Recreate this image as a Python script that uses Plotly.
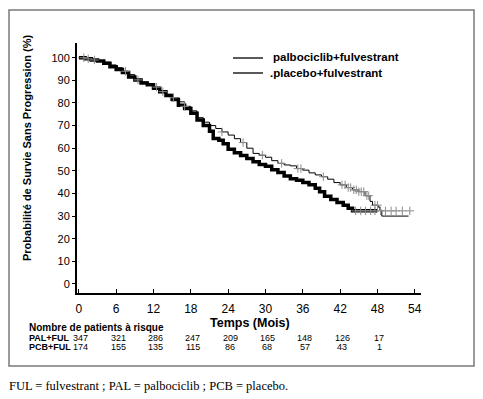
import numpy as np
import plotly.graph_objects as go

# ---------------- data ----------------
pal_t = [0, 1, 2, 3, 4, 5, 6, 7, 8, 9, 10, 11, 12, 13, 14, 15, 16, 17, 18, 19, 20,
         21, 22, 23, 24, 25, 26, 27, 28, 29, 30, 31, 32, 33, 34, 35, 36, 37, 38, 39,
         40, 41, 42, 43, 44, 45, 46, 46.8, 47.2, 48.1, 48.4, 48.7, 53]
pal_s = [100, 99.5, 99, 98.5, 98, 96.8, 95.6, 94, 92.5, 90.5, 89.3, 88.4, 87, 85.5,
         83.8, 82.3, 80.5, 78.5, 76.5, 73.5, 71.5, 70, 68.7, 67.2, 65.8, 64.2, 62.5,
         60, 57.7, 56.9, 56, 54.5, 53.3, 52.6, 52.2, 51, 50.3, 49.1, 48.2, 47.4, 46.3,
         44.8, 43.8, 42.6, 41.6, 40.8, 39, 36.5, 34.8, 34, 32.6, 30, 30]

pcb_t = [0, 1, 2, 3, 4, 5, 6, 7, 8, 9, 10, 11, 12, 13, 14, 15, 16, 17, 18, 19, 20,
         21, 21.6, 22.5, 23.2, 24, 25, 26, 27, 28, 29, 30, 31, 32, 33, 34, 35, 36, 37,
         38, 38.7, 39.5, 40.5, 41.5, 42.5, 43.3, 44, 48]
pcb_s = [100, 99.5, 99, 98.5, 97.5, 96, 94.8, 93.5, 91.5, 90.2, 88.8, 88, 86.5, 85,
         83.3, 81.5, 79, 77.5, 75.5, 72.5, 70, 67.5, 64.3, 63.5, 62, 59.5, 58, 56.8,
         55.5, 54, 52.8, 52, 50.5, 49.3, 47.7, 46.5, 45.8, 44.8, 43.8, 42.3, 40.8,
         38.8, 37.3, 36, 34.8, 33.5, 32.3, 32.3]

pal_censor = [0.8, 2.5, 7.5, 12.5, 15.2, 17, 23, 26.4, 29.5, 32.6, 35.2, 35.7, 39.3,
              42.3, 42.8, 43.3, 43.7, 44.2, 44.6, 45.0, 45.4, 45.8, 46.3, 46.6,
              47.6, 48.0]
pcb_censor = [1.5, 9.5, 13.5, 44.5, 45.3, 46.1, 46.9, 47.6, 48.5, 49.3, 50.2,
              51.0, 52.0, 53.2]

x_ticks = [0, 6, 12, 18, 24, 30, 36, 42, 48, 54]
y_ticks = [0, 10, 20, 30, 40, 50, 60, 70, 80, 90, 100]

risk_times = [0, 6, 12, 18, 24, 30, 36, 42, 48]
risk_pal = [347, 321, 286, 247, 209, 165, 148, 126, 17]
risk_pcb = [174, 155, 135, 115, 86, 68, 57, 43, 1]

legend_pal = "palbociclib+fulvestrant"
legend_pcb = ".placebo+fulvestrant"
caption = "FUL = fulvestrant ; PAL = palbociclib ; PCB = placebo."


def step_at(ts, ss, q):
    ts = np.asarray(ts)
    ss = np.asarray(ss)
    idx = np.searchsorted(ts, q, side="right") - 1
    return ss[np.clip(idx, 0, len(ss) - 1)]


# ---------------- figure ----------------
FONT = "Liberation Sans, Arial, sans-serif"
NARROW = "Liberation Sans Narrow, Arial Narrow, Liberation Sans, Arial, sans-serif"
CENSOR = "#8c8c8c"

fig = go.Figure()

fig.add_trace(go.Scatter(x=pcb_t, y=pcb_s, mode="lines",
                         line=dict(color="black", width=3.5, shape="hv"),
                         showlegend=False, hoverinfo="skip"))
fig.add_trace(go.Scatter(x=pal_t, y=pal_s, mode="lines",
                         line=dict(color="black", width=1, shape="hv"),
                         showlegend=False, hoverinfo="skip"))
fig.add_trace(go.Scatter(x=pal_censor, y=step_at(pal_t, pal_s, pal_censor),
                         mode="markers",
                         marker=dict(symbol="cross-thin-open", size=6, color=CENSOR,
                                     line=dict(color=CENSOR, width=1)),
                         showlegend=False, hoverinfo="skip"))
fig.add_trace(go.Scatter(x=pcb_censor, y=step_at(pcb_t, pcb_s, pcb_censor),
                         mode="markers",
                         marker=dict(symbol="cross-thin-open", size=6, color=CENSOR,
                                     line=dict(color=CENSOR, width=1)),
                         showlegend=False, hoverinfo="skip"))

# plot area in pixels: left 77, right 421, top 43, bottom 293
L, R, T, B = 77, 421, 43, 293
W, H = R - L, B - T


def px(x):
    return (x - L) / W


def py(y):
    return (B - y) / H


shapes = []
# outer frame
shapes.append(dict(type="rect", xref="paper", yref="paper",
                   x0=px(9), x1=px(474), y0=py(366), y1=py(10),
                   line=dict(color="#7a7a7a", width=1.5), layer="below"))
# legend lines
for yy in (58, 73):
    shapes.append(dict(type="line", xref="paper", yref="paper",
                       x0=px(233), x1=px(263), y0=py(yy), y1=py(yy),
                       line=dict(color="black", width=1.3)))

ann = []
ann.append(dict(text=legend_pal, xref="paper", yref="paper", x=px(271), y=py(57),
                xanchor="left", yanchor="middle", showarrow=False,
                font=dict(family=FONT, size=11.5, color="black", weight="bold")))
ann.append(dict(text=legend_pcb, xref="paper", yref="paper", x=px(268), y=py(73),
                xanchor="left", yanchor="middle", showarrow=False,
                font=dict(family=FONT, size=11.5, color="black", weight="bold")))
# axis titles
ann.append(dict(text="Probabilité de Survie Sans Progression (%)", xref="paper",
                yref="paper", x=px(27), y=py(148), textangle=-90,
                xanchor="center", yanchor="middle", showarrow=False,
                font=dict(family=FONT, size=11, color="black", weight="bold")))
ann.append(dict(text="Temps (Mois)", xref="paper", yref="paper", x=px(250),
                y=py(323), xanchor="center", yanchor="middle", showarrow=False,
                font=dict(family=FONT, size=12.5, color="black", weight="bold")))
# risk table
ann.append(dict(text="Nombre de patients à risque", xref="paper", yref="paper",
                x=px(27), y=py(327), xanchor="left", yanchor="middle",
                showarrow=False,
                font=dict(family=FONT, size=10, color="black", weight="bold")))
for label, yy in (("PAL+FUL", 338), ("PCB+FUL", 347)):
    ann.append(dict(text=label, xref="paper", yref="paper", x=px(27), y=py(yy),
                    xanchor="left", yanchor="middle", showarrow=False,
                    font=dict(family=NARROW, size=9, color="black", weight="bold")))
for t, a, b in zip(risk_times, risk_pal, risk_pcb):
    ann.append(dict(text=str(a), xref="x", yref="paper", x=t + 0.3, y=py(338),
                    xanchor="center", yanchor="middle", showarrow=False,
                    font=dict(family=NARROW, size=9, color="black")))
    ann.append(dict(text=str(b), xref="x", yref="paper", x=t + 0.3, y=py(347),
                    xanchor="center", yanchor="middle", showarrow=False,
                    font=dict(family=NARROW, size=9, color="black")))
# caption
ann.append(dict(text=caption, xref="paper", yref="paper", x=px(7), y=py(386),
                xanchor="left", yanchor="middle", showarrow=False,
                font=dict(family="Liberation Serif, Times New Roman, serif",
                          size=12.5, color="black")))

fig.update_layout(
    width=483, height=399,
    margin=dict(l=L, r=483 - R, t=T, b=399 - B, pad=0),
    paper_bgcolor="white", plot_bgcolor="white",
    showlegend=False,
    shapes=shapes, annotations=ann,
    font=dict(family=FONT, color="black"),
    xaxis=dict(range=[-0.3, 55], tickvals=x_ticks, ticktext=[str(v) for v in x_ticks],
               showline=True, linecolor="black", linewidth=2,
               ticks="inside", ticklen=4, tickwidth=1, tickcolor="black",
               ticklabelstandoff=4,
               showgrid=False, zeroline=False,
               tickfont=dict(family=FONT, size=12, color="black")),
    yaxis=dict(range=[-4, 106.5], tickvals=y_ticks, ticktext=[str(v) for v in y_ticks],
               showline=True, linecolor="black", linewidth=2,
               ticks="outside", ticklen=3, tickwidth=1, tickcolor="black",
               showgrid=False, zeroline=False,
               tickfont=dict(family=FONT, size=11, color="black")),
)

fig.write_html("out.html", config={"displayModeBar": False},
               post_script="document.body.style.margin='0';document.body.style.padding='0';")
